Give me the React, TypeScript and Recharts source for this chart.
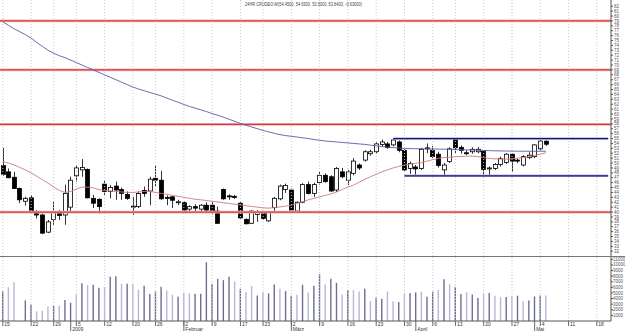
import React from 'react';
import { ComposedChart, Bar, Line, XAxis, YAxis, ReferenceLine } from 'recharts';

// trading days, Dec 2008 - May 2009 (last rows are empty future slots)
const dates = [
  '12-15', '12-16', '12-17', '12-18', '12-19', '12-22', '12-23', '12-24', '12-26', '12-29',
  '12-30', '12-31', '01-02', '01-05', '01-06', '01-07', '01-08', '01-09', '01-12', '01-13',
  '01-14', '01-15', '01-16', '01-20', '01-21', '01-22', '01-23', '01-26', '01-27', '01-28',
  '01-29', '01-30', '02-02', '02-03', '02-04', '02-05', '02-06', '02-09', '02-10', '02-11',
  '02-12', '02-13', '02-17', '02-18', '02-19', '02-20', '02-23', '02-24', '02-25', '02-26',
  '02-27', '03-02', '03-03', '03-04', '03-05', '03-06', '03-09', '03-10', '03-11', '03-12',
  '03-13', '03-16', '03-17', '03-18', '03-19', '03-20', '03-23', '03-24', '03-25', '03-26',
  '03-27', '03-30', '03-31', '04-01', '04-02', '04-03', '04-06', '04-07', '04-08', '04-09',
  '04-13', '04-14', '04-15', '04-16', '04-17', '04-20', '04-21', '04-22', '04-23', '04-24',
  '04-27', '04-28', '04-29', '04-30', '05-01', '05-04', '05-05', '05-06', '05-07', '05-08',
  '05-11', '05-12', '05-13', '05-14', '05-15', '05-18', '05-19', '05-20',
];

const opens = [
  49.5, 48.2, 47.1, 44.8, 42.2, 42.9, 39.8, 39.4, 35.9, 38.5,
  40.1, 39.4, 41.0, 47.4, 48.6, 48.7, 42.8, 42.6, 45.7, 44.2,
  45.3, 44.6, 43.6, 41.1, 41.1, 44.4, 44.3, 46.9, 46.5, 43.0,
  43.1, 41.9, 41.9, 40.6, 41.1, 40.6, 41.4, 41.4, 40.2, 44.6,
  43.3, 43.2, 41.8, 38.5, 37.7, 39.5, 39.9, 38.2, 40.9, 42.7,
  44.6, 44.5, 40.2, 42.0, 45.6, 43.8, 46.0, 47.5, 47.2, 44.5,
  48.2, 46.5, 47.9, 49.6, 50.6, 51.9, 52.3, 53.8, 53.9, 53.7,
  54.3, 52.6, 48.9, 49.2, 48.9, 52.9, 52.6, 51.8, 48.6, 50.3,
  54.9, 53.2, 52.1, 52.3, 52.3, 52.4, 48.8, 48.9, 49.7, 50.1,
  51.8, 50.6, 49.6, 51.1, 51.3, 52.9, 54.45,
];
const highs = [
  53.1, 48.9, 48.2, 45.0, 43.1, 43.5, 40.4, 39.7, 38.4, 42.2,
  40.4, 45.6, 47.2, 49.6, 50.8, 48.9, 43.5, 42.8, 46.5, 45.5,
  46.2, 45.0, 44.2, 43.1, 44.2, 45.2, 47.2, 49.6, 48.4, 43.4,
  43.3, 42.5, 42.2, 41.4, 41.6, 41.6, 42.0, 42.1, 41.1, 44.8,
  43.6, 43.5, 42.0, 38.7, 40.4, 40.4, 40.2, 40.2, 43.1, 45.6,
  45.8, 44.8, 42.2, 45.9, 46.2, 46.0, 48.2, 47.9, 47.5, 49.2,
  49.0, 48.6, 51.0, 49.9, 52.6, 52.7, 54.2, 54.8, 54.3, 55.0,
  54.6, 52.8, 50.3, 49.6, 53.1, 54.0, 53.5, 52.3, 50.0, 53.2,
  55.0, 53.6, 52.6, 53.2, 53.3, 52.6, 49.3, 50.0, 51.3, 52.0,
  52.0, 50.9, 51.6, 52.2, 53.9, 54.7, 54.63,
];
const lows = [
  47.4, 46.9, 44.7, 41.8, 41.3, 39.9, 38.7, 35.5, 35.7, 37.4,
  38.4, 37.4, 39.9, 46.2, 47.2, 42.8, 40.8, 39.7, 43.5, 42.8,
  42.5, 42.5, 42.5, 39.4, 40.8, 43.1, 41.4, 45.2, 42.5, 41.4,
  40.8, 41.4, 40.2, 40.1, 39.9, 40.2, 39.9, 39.5, 37.6, 42.5,
  42.5, 42.7, 38.7, 37.5, 37.6, 38.0, 38.4, 38.0, 39.9, 42.4,
  43.9, 39.9, 39.9, 41.8, 43.6, 43.1, 45.6, 46.0, 44.1, 44.1,
  46.9, 45.5, 47.5, 48.6, 50.3, 51.5, 51.9, 53.3, 52.9, 53.4,
  52.2, 48.3, 47.8, 47.4, 48.6, 52.0, 51.0, 49.1, 47.5, 50.0,
  52.0, 51.9, 51.6, 51.9, 52.0, 47.0, 47.3, 48.6, 49.3, 49.8,
  48.2, 50.0, 49.3, 50.8, 51.0, 52.5, 53.5,
];
const closes = [
  47.7, 47.0, 44.8, 42.5, 42.8, 40.2, 39.4, 35.7, 38.0, 39.9,
  39.3, 43.8, 46.5, 49.0, 49.1, 42.9, 41.8, 41.1, 44.2, 45.0,
  44.5, 43.8, 42.8, 41.2, 43.8, 43.8, 46.7, 46.5, 42.7, 42.8,
  42.4, 42.1, 40.4, 41.1, 40.8, 41.4, 40.4, 39.9, 37.7, 42.7,
  43.1, 43.0, 38.8, 37.6, 40.2, 39.9, 38.7, 39.9, 42.8, 45.3,
  45.4, 40.4, 42.0, 45.6, 43.8, 45.6, 47.5, 46.2, 44.3, 48.9,
  47.2, 48.2, 50.4, 49.0, 52.3, 52.3, 53.9, 54.3, 53.2, 54.7,
  52.6, 48.6, 49.9, 48.8, 52.8, 53.1, 51.3, 49.5, 49.6, 52.9,
  53.1, 52.6, 51.9, 52.8, 52.8, 48.7, 49.0, 49.7, 50.9, 51.8,
  50.4, 50.4, 51.3, 51.6, 53.7, 54.47, 53.84,
];

// moving averages
const maShort = [
  50.3, 50.0, 49.6, 49.1, 48.6, 48.0, 47.3, 46.6, 45.9, 45.1,
  44.4, 44.0, 44.2, 44.7, 45.1, 45.1, 44.9, 44.6, 44.4, 44.3,
  44.2, 44.1, 44.0, 44.0, 44.1, 44.2, 44.2, 44.0, 43.8, 43.6,
  43.4, 43.2, 43.0, 42.8, 42.6, 42.5, 42.35, 42.2, 42.05, 41.9,
  41.75, 41.6, 41.45, 41.3, 41.15, 41.0, 40.85, 40.8, 40.9, 41.05,
  41.2, 41.4, 41.75, 42.1, 42.5, 42.8, 43.1, 43.4, 43.7, 44.1,
  44.6, 45.1, 45.5, 46.1, 46.7, 47.2, 47.7, 48.2, 48.6, 49.0,
  49.3, 49.6, 49.8, 49.95, 50.1, 50.4, 50.7, 50.95, 51.1, 51.2,
  51.3, 51.35, 51.4, 51.4, 51.3, 51.1, 50.95, 50.85, 50.8, 50.8,
  50.9, 51.0, 51.1, 51.3, 51.55, 51.8, 52.1,
];
const maLong = [
  78.8, 78.1, 77.4, 76.8, 76.2, 75.5, 74.6, 73.8, 73.0, 72.4,
  71.9, 71.5, 71.0, 70.5, 70.0, 69.5, 69.0, 68.5, 68.0, 67.5,
  67.0, 66.5, 66.0, 65.5, 65.1, 64.75, 64.4, 64.05, 63.7, 63.25,
  62.8, 62.4, 61.95, 61.55, 61.2, 60.85, 60.5, 60.1, 59.75, 59.35,
  58.95, 58.5, 58.1, 57.7, 57.35, 57.0, 56.65, 56.35, 56.05, 55.8,
  55.6, 55.45, 55.3, 55.15, 55.0, 54.8, 54.65, 54.5, 54.4, 54.3,
  54.2, 54.1, 54.0, 53.9, 53.8, 53.65, 53.5, 53.35, 53.25, 53.15,
  53.05, 53.0, 52.95, 52.92, 52.9, 52.88, 52.86, 52.85, 52.82, 52.8,
  52.75, 52.7, 52.68, 52.65, 52.6, 52.57, 52.53, 52.5, 52.47, 52.45,
  52.43, 52.42, 52.41, 52.4, 52.4, 52.4, 52.4,
];

// volume, split by bar tone
const volDark = [
  5260, null, null, null, 3670, 2960, null, null, null, 2670,
  null, 3730, 3260, null, 6740, null, 6450, 5920, null, 7870,
  7980, null, 6630, null, null, 6270, 4790, 5210, 6090, null,
  null, 4320, null, null, 4850, 4850, 10460, 6630, 7510, 7270,
  7870, null, 5740, null, null, 4560, null, 4910, 6510, null,
  5330, 4500, null, 6450, null, 6270, 8340, null, 7510, 6800,
  null, 5500, null, null, 5740, null, 4150, 3970, null, null,
  3380, null, 4970, 5090, null, 4320, 5210, null, 7450, null,
  6090, 4790, null, 4740, 4090, null, 4970, null, null, 4260,
  null, 4500, null, 3670, 4380, 4560, null,
];
const volLight = [
  null, 6030, 6920, null, null, null, 1720, 1840, 2550, null,
  2730, null, null, 4740, null, 6390, null, null, 6090, null,
  null, 6630, null, 6630, 5560, null, null, null, null, 5440,
  4680, null, 5030, 4910, null, null, null, null, null, null,
  null, 7040, null, 5150, 6270, null, 5150, null, null, 5740,
  null, null, 4680, null, 5090, null, null, 6510, null, null,
  4740, null, 5500, 5260, null, 3560, null, null, 5260, 3500,
  null, 4850, null, null, 5210, null, null, 5560, null, 6570,
  null, null, 5150, null, null, 4910, null, 4500, 4260, null,
  4500, null, 3500, null, null, null, 4560,
];

const weekStarts = [
  '12-15', '12-22', '12-29', '01-05', '01-12', '01-20', '01-26', '02-02', '02-09', '02-17',
  '02-23', '03-02', '03-09', '03-16', '03-23', '03-30', '04-06', '04-13', '04-20', '04-27',
  '05-04', '05-11', '05-18',
];
const monthStarts = ['01-02', '02-02', '03-02', '04-01', '05-01'];
const monthNames = ['2009', 'Februar', 'März', 'April', 'Mai'];

const priceTicks = [
  32, 33, 34, 35, 36, 37, 38, 39, 40, 41, 42, 43, 44, 45, 46, 47, 48, 49, 50, 51,
  52, 53, 54, 55, 56, 57, 58, 59, 60, 61, 62, 63, 64, 65, 66, 67, 68, 69, 70, 71,
  72, 73, 74, 75, 76, 77, 78, 79, 80, 81, 82,
];
const volTicks = [1000, 2000, 3000, 4000, 5000, 6000, 7000, 8000, 9000, 10000, 11000];

const redLevels = [79, 69, 57.9, 40];
const channelTop = 55;
const channelBottom = 47.4;
const title = '24HR CRUDEO-M(54.4500, 54.6300, 53.5000, 53.8400, -0.63000)';

const rows = dates.map((d, i) => ({
  d,
  range: i < opens.length ? [lows[i], highs[i]] : null,
  o: opens[i],
  h: highs[i],
  l: lows[i],
  c: closes[i],
  maShort: maShort[i],
  maLong: maLong[i],
  vd: volDark[i] ?? null,
  vl: volLight[i] ?? null,
}));

const tickDates = [...new Set([...weekStarts, ...monthStarts])];
const FONT = '"Liberation Sans", Arial, sans-serif';

function Candle(props: any) {
  const { x, y, width, height, payload } = props;
  if (!payload || payload.o == null || x == null) return null;
  const { o, h, l, c } = payload;
  const top = Math.min(y, y + height);
  const span = Math.abs(height);
  const k = h - l > 0 ? span / (h - l) : 0;
  const yO = top + (h - o) * k;
  const yC = top + (h - c) * k;
  const cx = Math.round(x + width / 2) + 0.5;
  const bodyTop = Math.min(yO, yC);
  const bodyH = Math.max(Math.abs(yO - yC), 1);
  const up = c >= o;
  return (
    <g>
      <line x1={cx} x2={cx} y1={top} y2={top + span} stroke="#333" strokeWidth={1} />
      <rect
        x={cx - 2}
        y={bodyTop}
        width={4}
        height={bodyH}
        fill={up ? '#fff' : '#000'}
        stroke="#000"
        strokeWidth={0.8}
      />
    </g>
  );
}

function DateTick(props: any) {
  const { x, y, payload } = props;
  const d: string = payload.value;
  const m = monthStarts.indexOf(d);
  return (
    <g fontFamily={FONT} fill="#333">
      {weekStarts.includes(d) && (
        <g>
          <line x1={x} x2={x} y1={y} y2={y + 5} stroke="#666" />
          <text x={x + 1.5} y={y + 5.2} fontSize={5} fill="#333">
            {parseInt(d.slice(3), 10)}
          </text>
        </g>
      )}
      {m >= 0 && (
        <g>
          <line x1={x} x2={x} y1={y} y2={y + 10} stroke="#666" />
          <text x={x + 1.5} y={y + 9.8} fontSize={5} fill="#333">
            {monthNames[m]}
          </text>
        </g>
      )}
    </g>
  );
}

const gridLines = (keyPrefix: string) =>
  weekStarts.map((d) => (
    <ReferenceLine key={keyPrefix + d} x={d} stroke="#c8c8c8" strokeDasharray="1 2" />
  ));

export default function App() {
  return (
    <div
      style={{
        position: 'absolute',
        left: 0,
        top: 0,
        width: 625,
        height: 331,
        background: '#fff',
        fontFamily: FONT,
      }}
    >
      <svg width={625} height={10} style={{ position: 'absolute', left: 0, top: 0, zIndex: 2 }}>
        <text x={245} y={5.5} fontSize={4.5} fill="#444" textLength={117} lengthAdjust="spacingAndGlyphs">
          {title}
        </text>
      </svg>

      <ComposedChart width={625} height={256} data={rows} margin={{ top: 0, right: 0, bottom: 0, left: 0 }}>
        <XAxis dataKey="d" hide />
        <YAxis
          orientation="right"
          domain={[31.03, 83.27]}
          ticks={priceTicks}
          interval={0}
          allowDataOverflow
          width={14}
          tickSize={2}
          tickMargin={1}
          tick={{ fontSize: 4.5, fill: '#555', fontFamily: FONT }}
          axisLine={{ stroke: '#555' }}
          tickLine={{ stroke: '#555' }}
        />
        {gridLines('p')}
        {redLevels.map((v) => (
          <ReferenceLine key={'rh' + v} y={v} stroke="#f0b8b8" strokeWidth={2.8} />
        ))}
        {redLevels.map((v) => (
          <ReferenceLine key={'r' + v} y={v} stroke="#d03a3a" strokeWidth={1.2} />
        ))}
        <ReferenceLine segment={[{ x: '03-26', y: channelTop }, { x: '05-20', y: channelTop }]} stroke="#b4b8ea" strokeWidth={2.6} />
        <ReferenceLine segment={[{ x: '03-26', y: channelTop }, { x: '05-20', y: channelTop }]} stroke="#14146e" strokeWidth={1.2} />
        <ReferenceLine segment={[{ x: '03-30', y: channelBottom }, { x: '05-20', y: channelBottom }]} stroke="#b4b8ea" strokeWidth={2.6} />
        <ReferenceLine segment={[{ x: '03-30', y: channelBottom }, { x: '05-20', y: channelBottom }]} stroke="#14146e" strokeWidth={1.2} />
        <Line dataKey="maLong" stroke="#5a5aa8" strokeWidth={0.9} dot={false} isAnimationActive={false} />
        <Line dataKey="maShort" stroke="#d37a7a" strokeWidth={0.9} dot={false} isAnimationActive={false} />
        <Bar dataKey="range" barSize={5} shape={Candle} isAnimationActive={false} />
      </ComposedChart>

      <div style={{ borderTop: '1px solid #777', width: 625 }}>
        <ComposedChart width={625} height={74} data={rows} margin={{ top: 0, right: 0, bottom: 0, left: 0 }}>
          <XAxis
            dataKey="d"
            ticks={tickDates}
            interval={0}
            height={10}
            tickSize={0}
            tickMargin={0}
            tickLine={false}
            tick={DateTick}
            axisLine={{ stroke: '#555' }}
          />
          <YAxis
            orientation="right"
            domain={[0, 11400]}
            ticks={volTicks}
            interval={0}
            allowDataOverflow
            width={14}
            tickSize={2}
            tickMargin={0}
            tick={{ fontSize: 4.5, fill: '#555', fontFamily: FONT }}
            axisLine={{ stroke: '#555' }}
            tickLine={{ stroke: '#555' }}
          />
          {gridLines('v')}
          <Bar dataKey="vd" stackId="v" barSize={1.4} fill="#6d6d92" isAnimationActive={false} />
          <Bar dataKey="vl" stackId="v" barSize={1.4} fill="#b6b6dc" isAnimationActive={false} />
        </ComposedChart>
      </div>
    </div>
  );
}
